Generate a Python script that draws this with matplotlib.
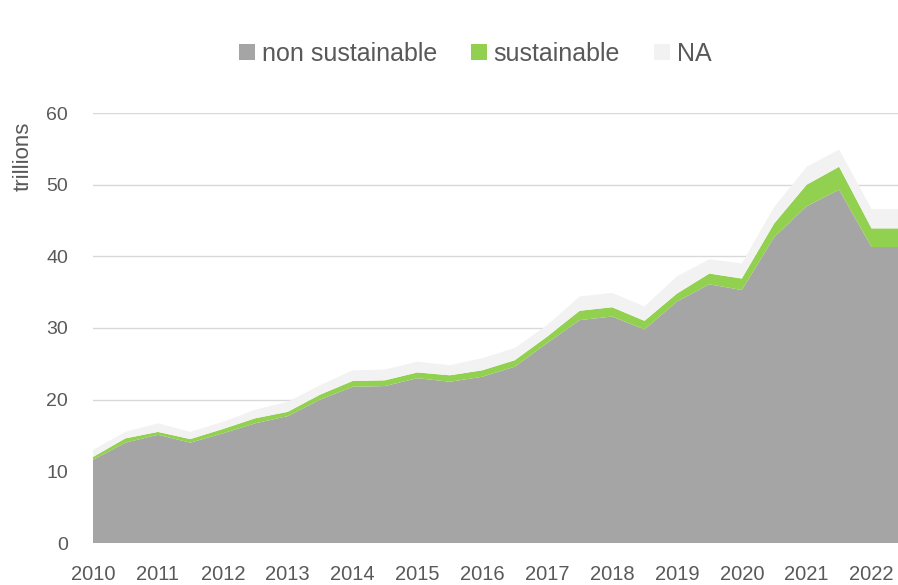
import numpy as np
import matplotlib
matplotlib.use("Agg")
import matplotlib.pyplot as plt
from matplotlib.patches import Patch

plt.rcParams['font.family'] = ['Liberation Sans', 'DejaVu Sans']

# half-year observations
periods = [2010.0, 2010.5, 2011.0, 2011.5, 2012.0, 2012.5, 2013.0, 2013.5,
           2014.0, 2014.5, 2015.0, 2015.5, 2016.0, 2016.5, 2017.0, 2017.5,
           2018.0, 2018.5, 2019.0, 2019.5, 2020.0, 2020.5, 2021.0, 2021.5,
           2022.0, 2022.5]

# cumulative tops (trillions)
non_sust_top = [11.6, 14.0, 15.1, 14.0, 15.3, 16.7, 17.7, 20.0, 21.8, 21.9,
                23.0, 22.5, 23.2, 24.6, 27.9, 31.1, 31.6, 29.8, 33.7, 36.1,
                35.3, 42.7, 47.0, 49.3, 41.3, 41.3]
sust_top = [12.0, 14.6, 15.5, 14.5, 15.9, 17.4, 18.3, 20.7, 22.6, 22.7,
            23.8, 23.4, 24.1, 25.5, 28.8, 32.4, 32.9, 31.0, 34.8, 37.6,
            36.9, 44.6, 50.0, 52.5, 43.9, 43.9]
na_top = [13.0, 15.5, 16.7, 15.5, 16.9, 18.6, 19.7, 22.0, 24.1, 24.2,
          25.3, 24.8, 25.8, 27.2, 30.4, 34.4, 34.9, 33.0, 37.2, 39.6,
          39.0, 46.9, 52.5, 54.9, 46.6, 46.6]

non_sustainable = np.array(non_sust_top)
sustainable = np.array(sust_top) - non_sustainable
na = np.array(na_top) - np.array(sust_top)

labels = ['non sustainable', 'sustainable', 'NA']
colors = ['#a5a5a5', '#92d050', '#f2f2f2']
years = list(range(2010, 2023))
yticks = [0, 10, 20, 30, 40, 50, 60]

txt = '#595959'

fig = plt.figure(figsize=(8.98, 5.85), dpi=100)
ax = fig.add_axes([93 / 898, 42 / 585, 805 / 898, 430 / 585])

ax.stackplot(periods, non_sustainable, sustainable, na, colors=colors, linewidth=0)

ax.set_xlim(2010, 2010 + 804 / 64.8)
ax.set_ylim(0, 60)
ax.set_yticks(yticks)
ax.set_xticks(years)
ax.grid(axis='y', color='#d9d9d9', linewidth=1)
ax.set_axisbelow(True)
for s in ax.spines.values():
    s.set_visible(False)
ax.tick_params(axis='y', length=0, pad=18, labelsize=14, labelcolor=txt)
ax.tick_params(axis='x', length=0, pad=16, labelsize=14.5, labelcolor=txt)

fig.text(23 / 898, 1 - 156 / 585, 'trillions', rotation=90, ha='center', va='center',
         fontsize=16, color=txt)

handles = [Patch(facecolor=c, edgecolor='none') for c in colors]
fig.legend(handles, labels, loc='center', bbox_to_anchor=(475 / 898, 1 - 54 / 585),
           ncol=3, frameon=False, fontsize=18, labelcolor=txt,
           handlelength=0.64, handleheight=0.64, handletextpad=0.28, columnspacing=1.35)

fig.savefig('out.png', dpi=100)
